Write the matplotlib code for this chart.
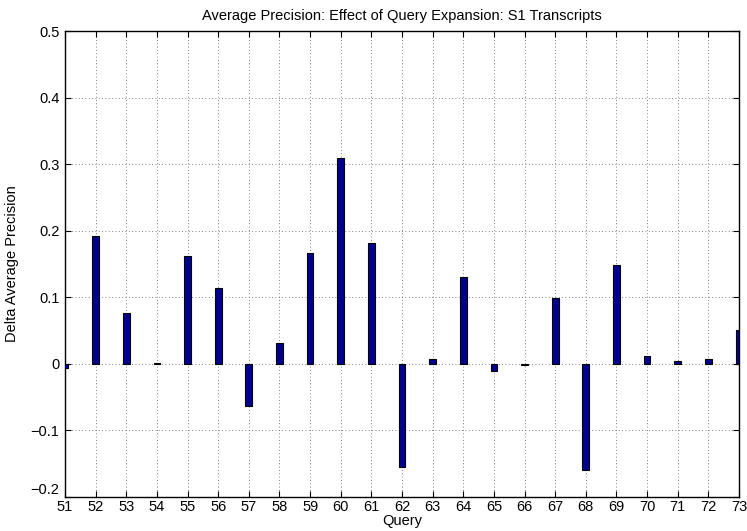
import matplotlib
matplotlib.use("Agg")
import matplotlib.pyplot as plt

queries = list(range(51, 74))
delta_ap = [-0.006, 0.192, 0.077, 0.001, 0.162, 0.114, -0.064, 0.032, 0.167,
            0.309, 0.182, -0.155, 0.0075, 0.131, -0.010, -0.002, 0.099, -0.160,
            0.148, 0.0115, 0.0045, 0.008, 0.0506]
yticks = [-0.2, -0.1, 0, 0.1, 0.2, 0.3, 0.4, 0.5]
ytick_labels = ["\u22120.2", "\u22120.1", "0", "0.1", "0.2", "0.3", "0.4", "0.5"]

plt.rcParams['font.family'] = ['Liberation Sans', 'DejaVu Sans']
FS = 10.5

fig = plt.figure(figsize=(7.47, 5.31), dpi=100)
ax = fig.add_axes([0.087, 0.064, 0.9023, 0.8776])

ax.bar(queries, delta_ap, width=0.22, color='#000090', edgecolor='black',
       linewidth=0.8, zorder=3)

ax.set_xlim(51, 73)
ax.set_ylim(-0.2, 0.5)
ax.set_xticks(queries)
ax.set_xticklabels([str(q) for q in queries], fontsize=FS)
ax.set_yticks(yticks)
ax.set_yticklabels(ytick_labels, fontsize=FS)
for lbl in ax.get_yticklabels():
    lbl.set_va('bottom') if lbl.get_text() == "\u22120.2" else None

ax.grid(True, linestyle=(0, (1, 3)), color='0.35', linewidth=0.6, zorder=0)
ax.tick_params(axis='both', direction='in', top=True, right=True, length=4, width=0.8)
ax.tick_params(axis='x', pad=2)
ax.tick_params(axis='y', pad=4)
for s in ax.spines.values():
    s.set_linewidth(1.0)

ax.set_title("Average Precision: Effect of Query Expansion: S1 Transcripts",
             fontsize=FS, pad=8)
ax.set_xlabel("Query", fontsize=FS, labelpad=0)
ax.set_ylabel("Delta Average Precision", fontsize=FS, labelpad=8)

fig.savefig("out.png", dpi=100)
